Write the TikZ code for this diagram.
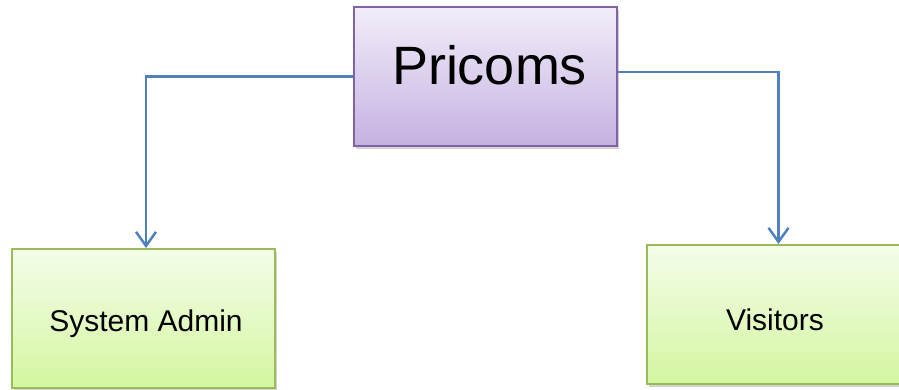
\documentclass[tikz,border=0pt]{standalone}
\usepackage{fontspec}
\setmainfont{Liberation Sans}
\usetikzlibrary{shadows,arrows.meta}
\definecolor{purptop}{HTML}{F2EDF9}
\definecolor{purpbot}{HTML}{C5B2E2}
\definecolor{purpline}{HTML}{8064A2}
\definecolor{greentop}{HTML}{F4FDEA}
\definecolor{greenbot}{HTML}{D4F6A0}
\definecolor{greenline}{HTML}{9BBB59}
\definecolor{conncol}{HTML}{4F81BD}
\tikzset{
  topbox/.style={draw=purpline, line width=2pt, top color=purptop, bottom color=purpbot,
    minimum width=263pt, minimum height=139pt, inner sep=0pt,
    drop shadow={shadow xshift=2pt, shadow yshift=-3pt, opacity=0.35}},
  leafbox/.style={draw=greenline, line width=2pt, top color=greentop, bottom color=greenbot,
    minimum width=263pt, minimum height=139pt, inner sep=0pt,
    drop shadow={shadow xshift=2pt, shadow yshift=-3pt, opacity=0.35}},
  conn/.style={draw=conncol, line width=2.5pt, -{Straight Barb[length=14pt,width=20pt,line width=2.5pt]}},
  lbl/.style={font=\fontsize{30}{30}\selectfont, inner sep=0pt, anchor=base}
}
\begin{document}
\begin{tikzpicture}[x=1pt,y=-1pt]
\useasboundingbox (0,0) rectangle (899,390);
\node[topbox] (P) at (485.5,76.5) {};
\node[lbl, font=\fontsize{54}{54}\selectfont] (Pt) at (489.5,85) {Pricoms};
\node[leafbox] (SA) at (143.5,318.5) {};
\node[lbl] (SAt) at (146,331) {System Admin};
\node[leafbox] (V) at (778.5,314.5) {};
\node[lbl] (Vt) at (775,330) {Visitors};
\draw[conn] (P.west) -| ([xshift=2.5pt]SA.north);
\draw[conn] ([yshift=4.5pt]P.east) -| (V.north);
\end{tikzpicture}
\end{document}
